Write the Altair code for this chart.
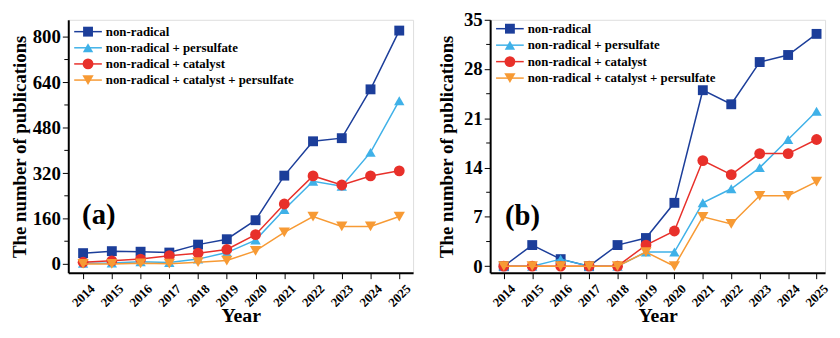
import altair as alt
import pandas as pd

years = list(range(2014, 2026))
series = ["non-radical", "non-radical + persulfate", "non-radical + catalyst",
          "non-radical + catalyst + persulfate"]
colors = ["#1c3e9a", "#3fb1e8", "#e8302a", "#f79a34"]
shapes = ["square", "triangle-up", "circle", "triangle-down"]
sizes = [100, 130, 100, 130]

# panel (a)
a_nonradical = [38, 45, 43, 40, 68, 87, 154, 311, 432, 443, 615, 822]
a_persulfate = [2, 3, 8, 5, 17, 40, 84, 192, 291, 274, 393, 575]
a_catalyst = [6, 11, 17, 29, 38, 51, 103, 211, 310, 278, 310, 328]
a_cat_pers = [0, 0, 2, 1, 6, 12, 46, 111, 167, 132, 132, 167]
a_yticks = [0, 160, 320, 480, 640, 800]
a_yminor = [80, 240, 400, 560, 720]

# panel (b)
b_nonradical = [0, 3, 1, 0, 3, 4, 9, 25, 23, 29, 30, 33]
b_persulfate = [0, 0, 1, 0, 0, 2, 2, 9, 11, 14, 18, 22]
b_catalyst = [0, 0, 0, 0, 0, 3, 5, 15, 13, 16, 16, 18]
b_cat_pers = [0, 0, 0, 0, 0, 2, 0, 7, 6, 10, 10, 12]
b_yticks = [0, 7, 14, 21, 28, 35]
b_yminor = [3.5, 10.5, 17.5, 24.5, 31.5]

FONT = "Liberation Serif"
H = 256


def panel(vals, ydom, yticks, yminor, label, label_xy, leg_range, xdom, width, title_x):
    rows = []
    for s, v in zip(series, vals):
        for yr, val in zip(years, v):
            rows.append({"year": yr, "series": s, "value": val})
    df = pd.DataFrame(rows)

    yscale = alt.Scale(domain=ydom, nice=False, zero=False)
    xscale = alt.Scale(domain=xdom, nice=False, zero=False)
    color = alt.Color("series:N", scale=alt.Scale(domain=series, range=colors), legend=None)
    shape = alt.Shape("series:N", scale=alt.Scale(domain=series, range=shapes), legend=None)
    size = alt.Size("series:N", scale=alt.Scale(domain=series, range=sizes), legend=None)

    xaxis = alt.Axis(values=years, format="d", labelAngle=-45, labelAlign="center",
                     labelBaseline="middle", labelPadding=17, labelFont=FONT,
                     labelFontSize=13, labelFontWeight="bold", labelColor="black",
                     tickSize=6, tickColor="black", tickWidth=1, domainColor="black",
                     domainWidth=2, grid=False, title="Year", titleFont=FONT,
                     titleFontSize=20, titleFontWeight="bold", titleColor="black",
                     titleBaseline="alphabetic", titleY=49)
    yaxis = alt.Axis(values=yticks, format="d", labelFont=FONT, labelFontSize=19,
                     labelFontWeight="bold", labelColor="black", labelPadding=2,
                     tickSize=6, tickColor="black", tickWidth=1, domainColor="black",
                     domainWidth=2, grid=False, title="The number of publications",
                     titleFont=FONT, titleFontSize=19, titleFontWeight="bold",
                     titleColor="black", titleBaseline="alphabetic", titleX=title_x)

    base = alt.Chart(df)
    layers = []
    first = True
    for s in series:
        sub = base.transform_filter(alt.datum.series == s)
        line = sub.mark_line(strokeWidth=1.5).encode(
            x=alt.X("year:Q", scale=xscale, axis=xaxis),
            y=alt.Y("value:Q", scale=yscale, axis=yaxis if first else None),
            color=color,
        )
        pts = sub.mark_point(filled=True, opacity=1).encode(
            x=alt.X("year:Q", scale=xscale, axis=xaxis),
            y=alt.Y("value:Q", scale=yscale, axis=None),
            color=color, shape=shape, size=size,
        )
        layers += [line, pts]
        first = False

    minor = alt.Chart(pd.DataFrame({"v": yminor})).mark_rule(
        color="black", strokeWidth=1).encode(
        y=alt.Y("v:Q", scale=yscale, axis=None),
        x=alt.value(-4), x2=alt.value(0))

    leg_df = pd.DataFrame({"series": series})
    legy = alt.Y("series:N", scale=alt.Scale(type="point", domain=series,
                                             range=leg_range, padding=0), axis=None)
    leg_line = alt.Chart(leg_df).mark_rule(strokeWidth=1.5).encode(
        x=alt.value(6), x2=alt.value(34), y=legy, color=color)
    leg_pt = alt.Chart(leg_df).mark_point(filled=True, opacity=1).encode(
        x=alt.value(20), y=legy, color=color, shape=shape, size=size)
    leg_txt = alt.Chart(leg_df).mark_text(
        align="left", baseline="middle", font=FONT, fontSize=13,
        fontWeight="bold", color="black").encode(
        x=alt.value(38), y=legy, text="series:N")

    lab = alt.Chart(pd.DataFrame({"t": [label]})).mark_text(
        align="left", baseline="middle", font=FONT, fontSize=29,
        fontWeight="bold", color="black").encode(
        x=alt.value(label_xy[0]), y=alt.value(label_xy[1]), text="t:N")

    return alt.layer(*layers, minor, leg_line, leg_pt, leg_txt, lab).resolve_scale(
        y="independent").properties(width=width, height=H)


pa = panel([a_nonradical, a_persulfate, a_catalyst, a_cat_pers], [-31, 860],
           a_yticks, a_yminor, "(a)", (14, 198), [12, 61],
           [2013.484, 2025.481], 349, -43)
pb = panel([b_nonradical, b_persulfate, b_catalyst, b_cat_pers], [-0.93, 35],
           b_yticks, b_yminor, "(b)", (15, 199), [9, 59],
           [2013.52, 2025.3], 339, -38)

chart = alt.hconcat(pa, pb, spacing=78, bounds="flush").properties(
    padding={"left": 2, "top": 0, "right": 0, "bottom": 0}
).configure_view(stroke="black", strokeWidth=1).configure(background="white")

chart.save("out.html", embed_options={"renderer": "svg", "actions": False})
